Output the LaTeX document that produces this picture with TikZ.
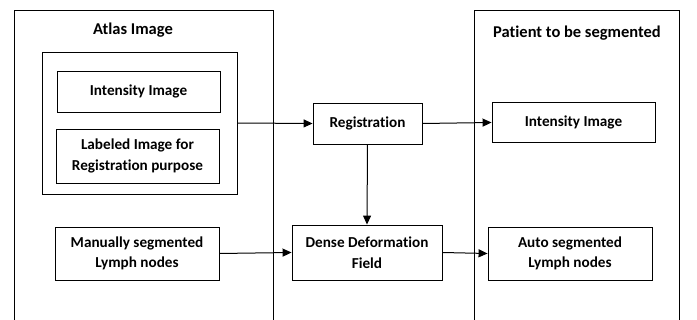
\documentclass[tikz,border=0pt]{standalone}
\usepackage{fontspec}
\setmainfont[Ligatures=NoCommon]{Carlito}
\usetikzlibrary{arrows.meta}
\begin{document}
\begin{tikzpicture}[x=1pt,y=-1pt,
  lbl/.style={font=\bfseries\fontsize{15.2}{20.5}\selectfont, align=center},
  ttl/.style={font=\bfseries\fontsize{16.5}{20}\selectfont},
  box/.style={draw, line width=0.9pt, rectangle, inner sep=0pt, lbl},
  frame/.style={draw, line width=0.9pt},
  arr/.style={draw, line width=1pt, -{Triangle[length=9pt,width=8pt]}}]
\useasboundingbox (0,0) rectangle (697,320);

% the two column frames (open at the bottom)
\draw[frame] (14,322) -- (14,10) -- (273,10) -- (273,322);
\draw[frame] (474.5,322) -- (474.5,10) -- (679,10) -- (679,322);

% column titles
\node[ttl] (atlasT) at (133,30) {Atlas Image};
\node[ttl] (patT) at (577,33) {Patient to be segmented};

% atlas side
\node[box, minimum width=195pt, minimum height=142pt] (grp) at (139.5,123) {};
\node[box, minimum width=163pt, minimum height=41pt] (intA) at (138.5,91.5) {Intensity Image};
\node[box, minimum width=163pt, minimum height=54pt] (lab) at (137.5,156) {Labeled Image for\\Registration purpose};
\node[box, minimum width=164pt, minimum height=53pt] (man) at (137,253.5) {Manually segmented\\Lymph nodes};

% middle column
\node[box, minimum width=109pt, minimum height=41pt] (reg) at (367.5,123.5) {Registration};
\node[box, minimum width=150pt, minimum height=55pt] (dense) at (367,252.5) {Dense Deformation\\Field};

% patient side
\node[box, minimum width=163pt, minimum height=40pt] (intP) at (573.5,122.5) {Intensity Image};
\node[box, minimum width=164pt, minimum height=53pt] (auto) at (570,253.5) {Auto segmented\\Lymph nodes};

% connectors
\draw[arr] (grp.east) -- (reg.west);
\draw[arr] (reg.east) -- (intP.west);
\draw[arr] (reg.south) -- (dense.north);
\draw[arr] (man.east) -- (dense.west);
\draw[arr] (dense.east) -- (auto.west);
\end{tikzpicture}
\end{document}
